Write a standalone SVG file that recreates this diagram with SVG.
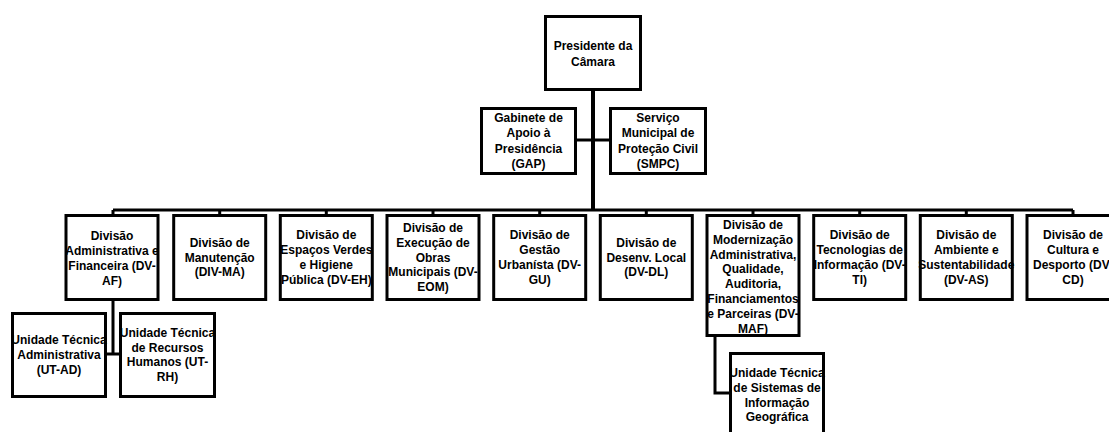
<svg xmlns="http://www.w3.org/2000/svg" width="1109" height="432" viewBox="0 0 1109 432">
<style>
.box{fill:#fff;stroke:#000;stroke-width:3}
.ln{fill:none;stroke:#000;stroke-width:3}
.tr{fill:none;stroke:#000;stroke-width:4}
text{font-family:"Liberation Sans",Arial,sans-serif;font-weight:bold;font-size:12px;text-anchor:middle;dominant-baseline:central;fill:#000}
</style>
<rect width="1109" height="432" fill="#fff"/>
<g id="connectors">
<path class="tr" d="M593 91V210"/>
<path class="ln" d="M577 140H609"/>
<path class="ln" d="M113 210H1073"/>
<path class="ln" d="M113 210V215M219.7 210V215M326.3 210V215M433 210V215M539.7 210V215M646.3 210V215M753 210V215M859.7 210V215M966.3 210V215M1073 210V215"/>
<path class="ln" d="M113 301V354M107 354H119"/>
<path class="ln" d="M715 337V393H729"/>
</g>
<g id="presidente">
<rect class="box" x="545.5" y="16.5" width="95" height="73"/>
<text x="593" y="45.5">Presidente da</text>
<text x="593" y="61.5">Câmara</text>
</g>
<g id="gap">
<rect class="box" x="481.5" y="108.5" width="94" height="65"/>
<text x="528.5" y="118">Gabinete de</text>
<text x="528.5" y="133.3">Apoio à</text>
<text x="528.5" y="148.6">Presidência</text>
<text x="528.5" y="163.9">(GAP)</text>
</g>
<g id="smpc">
<rect class="box" x="610.5" y="108.5" width="95" height="65"/>
<text x="658" y="118">Serviço</text>
<text x="658" y="133.3">Municipal de</text>
<text x="658" y="148.6">Proteção Civil</text>
<text x="658" y="163.9">(SMPC)</text>
</g>
<g id="dv-af">
<rect class="box" x="66" y="215.5" width="92" height="84"/>
<text x="112" y="235.5">Divisão</text>
<text x="112" y="250.5">Administrativa e</text>
<text x="112" y="265.5">Financeira (DV-</text>
<text x="112" y="280.5">AF)</text>
</g>
<g id="div-ma">
<rect class="box" x="173.7" y="215.5" width="92" height="84"/>
<text x="219.7" y="242.7">Divisão de</text>
<text x="219.7" y="257.5">Manutenção</text>
<text x="219.7" y="272.3">(DIV-MA)</text>
</g>
<g id="dv-eh">
<rect class="box" x="280.3" y="215.5" width="92" height="84"/>
<text x="326.3" y="235.3">Divisão de</text>
<text x="326.3" y="250.1">Espaços Verdes</text>
<text x="326.3" y="264.9">e Higiene</text>
<text x="326.3" y="279.7">Pública (DV-EH)</text>
</g>
<g id="dv-eom">
<rect class="box" x="387" y="215.5" width="92" height="84"/>
<text x="433" y="228.1">Divisão de</text>
<text x="433" y="242.8">Execução de</text>
<text x="433" y="257.5">Obras</text>
<text x="433" y="272.2">Municipais (DV-</text>
<text x="433" y="286.9">EOM)</text>
</g>
<g id="dv-gu">
<rect class="box" x="493.7" y="215.5" width="92" height="84"/>
<text x="539.7" y="235.3">Divisão de</text>
<text x="539.7" y="250.1">Gestão</text>
<text x="539.7" y="264.9">Urbanísta (DV-</text>
<text x="539.7" y="279.7">GU)</text>
</g>
<g id="dv-dl">
<rect class="box" x="600.3" y="215.5" width="92" height="84"/>
<text x="646.3" y="242.7">Divisão de</text>
<text x="646.3" y="257.5">Desenv. Local</text>
<text x="646.3" y="272.3">(DV-DL)</text>
</g>
<g id="dv-maf">
<rect class="box" x="707" y="215.5" width="92" height="120"/>
<text x="753" y="225">Divisão de</text>
<text x="753" y="239.8">Modernização</text>
<text x="753" y="254.6">Administrativa,</text>
<text x="753" y="269.4">Qualidade,</text>
<text x="753" y="284.2">Auditoria,</text>
<text x="753" y="299">Financiamentos</text>
<text x="753" y="313.8">e Parceiras (DV-</text>
<text x="753" y="328.6">MAF)</text>
</g>
<g id="dv-ti">
<rect class="box" x="813.7" y="215.5" width="92" height="84"/>
<text x="859.7" y="235.3">Divisão de</text>
<text x="859.7" y="250.1">Tecnologias de</text>
<text x="859.7" y="264.9">Informação (DV-</text>
<text x="859.7" y="279.7">TI)</text>
</g>
<g id="dv-as">
<rect class="box" x="920.3" y="215.5" width="92" height="84"/>
<text x="966.3" y="235.3">Divisão de</text>
<text x="966.3" y="250.1">Ambiente e</text>
<text x="966.3" y="264.9">Sustentabilidade</text>
<text x="966.3" y="279.7">(DV-AS)</text>
</g>
<g id="dv-cd">
<rect class="box" x="1027" y="215.5" width="92" height="84"/>
<text x="1073" y="235.3">Divisão de</text>
<text x="1073" y="250.1">Cultura e</text>
<text x="1073" y="264.9">Desporto (DV-</text>
<text x="1073" y="279.7">CD)</text>
</g>
<g id="ut-ad">
<rect class="box" x="12.5" y="313.5" width="93" height="83"/>
<text x="59" y="340.2">Unidade Técnica</text>
<text x="59" y="355">Administrativa</text>
<text x="59" y="369.8">(UT-AD)</text>
</g>
<g id="ut-rh">
<rect class="box" x="120.5" y="313.5" width="94" height="83"/>
<text x="167.5" y="332.8">Unidade Técnica</text>
<text x="167.5" y="347.6">de Recursos</text>
<text x="167.5" y="362.4">Humanos (UT-</text>
<text x="167.5" y="377.2">RH)</text>
</g>
<g id="ut-sig">
<rect class="box" x="730.5" y="353.5" width="93" height="84"/>
<text x="777" y="373">Unidade Técnica</text>
<text x="777" y="387.8">de Sistemas de</text>
<text x="777" y="402.6">Informação</text>
<text x="777" y="417.4">Geográfica</text>
</g>
</svg>
